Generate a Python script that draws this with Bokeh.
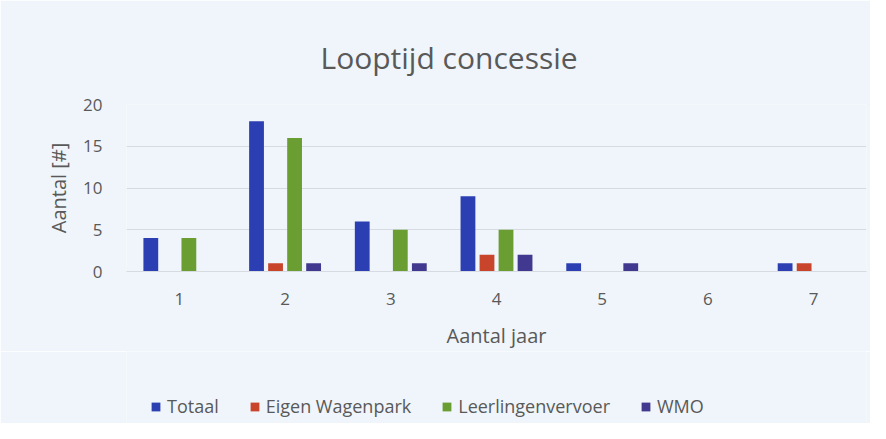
from bokeh.plotting import figure
from bokeh.layouts import column
from bokeh.models import ColumnDataSource, FixedTicker, Range1d, Legend, LegendItem, Title
from bokeh.embed import file_html
from bokeh.resources import INLINE

years = [1, 2, 3, 4, 5, 6, 7]
totaal = [4, 18, 6, 9, 1, 0, 1]
eigen_wagenpark = [0, 1, 0, 2, 0, 0, 1]
leerlingenvervoer = [4, 16, 5, 5, 0, 0, 0]
wmo = [0, 1, 1, 2, 1, 0, 0]
series_names = ["Totaal", "Eigen Wagenpark", "Leerlingenvervoer", "WMO"]
series_values = [totaal, eigen_wagenpark, leerlingenvervoer, wmo]
colors = ["#2c3fb2", "#c8452c", "#6b9e32", "#40398f"]
offsets = [-0.27, -0.09, 0.09, 0.27]

BG = "#eff5fa"
TXT = "#595959"
FONT = "Open Sans"

p = figure(width=870, height=351, output_backend="svg", toolbar_location=None,
           x_range=Range1d(0.5, 7.5), y_range=Range1d(0, 20),
           min_border_left=126, min_border_right=4, min_border_top=104, min_border_bottom=80)
p.background_fill_color = BG
p.border_fill_color = BG
p.outline_line_color = None

p.title = Title(text="Looptijd concessie", align="left", offset=194, standoff=53,
                text_font=FONT, text_font_size="30px", text_font_style="normal",
                text_color=TXT)

for name, vals, col, off in zip(series_names, series_values, colors, offsets):
    src = ColumnDataSource(dict(x=[y + off for y in years], top=vals))
    p.vbar(x="x", top="top", width=0.14, source=src, fill_color=col, line_color=None)

p.xaxis.ticker = FixedTicker(ticks=years)
p.yaxis.ticker = FixedTicker(ticks=[0, 5, 10, 15, 20])
for ax in (p.xaxis[0], p.yaxis[0]):
    ax.major_tick_line_color = None
    ax.minor_tick_line_color = None
    ax.major_label_text_color = TXT
    ax.major_label_text_font = FONT
    ax.major_label_text_font_size = "17px"
    ax.axis_label_text_color = TXT
    ax.axis_label_text_font = FONT
    ax.axis_label_text_font_size = "20px"
    ax.axis_label_text_font_style = "normal"
p.yaxis.axis_line_color = None
p.xaxis.axis_line_color = "#d6dbe2"
p.xaxis.axis_label = "Aantal jaar"
p.yaxis.axis_label = "Aantal [#]"
p.xaxis.major_label_standoff = 15
p.xaxis.axis_label_standoff = 14
p.yaxis.major_label_standoff = 18
p.yaxis.axis_label_standoff = 8
p.xgrid.grid_line_color = None
p.ygrid.grid_line_color = "#d6dbe2"

# legend strip below the chart (dummy renderers lie outside the visible range)
lg = figure(width=870, height=72, output_backend="svg", toolbar_location=None,
            x_axis_location=None, y_axis_location=None,
            x_range=Range1d(0, 1), y_range=Range1d(0, 1),
            min_border_left=126, min_border_right=4, min_border_top=0, min_border_bottom=0)
lg.background_fill_color = BG
lg.border_fill_color = BG
lg.outline_line_color = None
lg.xgrid.grid_line_color = None
lg.ygrid.grid_line_color = None
items = []
for name, col in zip(series_names, colors):
    r = lg.vbar(x=[-5], top=[0], width=0.1, fill_color=col, line_color=None)
    items.append(LegendItem(label=name, renderers=[r]))
legend = Legend(items=items, orientation="horizontal", location=(24, 5), padding=6,
                background_fill_alpha=0, border_line_color=None,
                label_text_font=FONT, label_text_font_size="18px", label_text_color=TXT,
                glyph_width=11, glyph_height=11, spacing=30, label_standoff=6)
lg.add_layout(legend, "center")

open("out.html", "w").write(file_html(column(p, lg, spacing=0), INLINE))
